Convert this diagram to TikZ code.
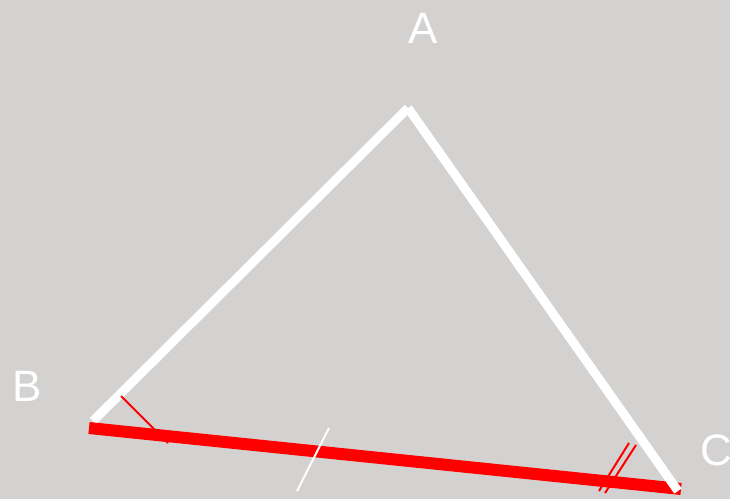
\documentclass[tikz,border=0pt]{standalone}
\usepackage{fontspec}
\setmainfont{Liberation Sans}
\definecolor{bg}{RGB}{211,210,209}
\begin{document}
\begin{tikzpicture}[x=1pt,y=-1pt,
  side/.style={line width=9pt, line cap=butt, white},
  base/.style={line width=12pt, line cap=butt, red},
  tickw/.style={line width=2pt, white},
  tickr/.style={line width=2pt, red},
  lbl/.style={text=white, font=\fontsize{44}{44}\selectfont, inner sep=0pt}]
\fill[bg] (0,0) rectangle (730,499);
\useasboundingbox (0,0) rectangle (730,499);
\coordinate (A) at (408,108);
\coordinate (Bw) at (93,421);
\coordinate (Cw) at (678,491);
\coordinate (Br) at (89,428);
\coordinate (Cr) at (681,489);
\draw[side] (A) -- (Bw);
\draw[base] (Br) -- (Cr);
\draw[side] (A) -- (Cw);
% angle mark at B
\coordinate (tb1) at (121,396);
\coordinate (tb2) at (168,443);
\draw[tickr] (tb1) -- (tb2);
% tick on BC
\coordinate (tm1) at (329,428);
\coordinate (tm2) at (297,491);
\draw[tickw] (tm1) -- (tm2);
% double mark at C
\coordinate (tc1) at (629,443);
\coordinate (tc2) at (599,491);
\coordinate (tc3) at (636,445);
\coordinate (tc4) at (605,493);
\draw[tickr] (tc1) -- (tc2);
\draw[tickr] (tc3) -- (tc4);
\node[lbl] (la) at (423,28) {A};
\node[lbl] (lb) at (27,386) {B};
\node[lbl] (lc) at (716,450) {C};
\end{tikzpicture}
\end{document}
